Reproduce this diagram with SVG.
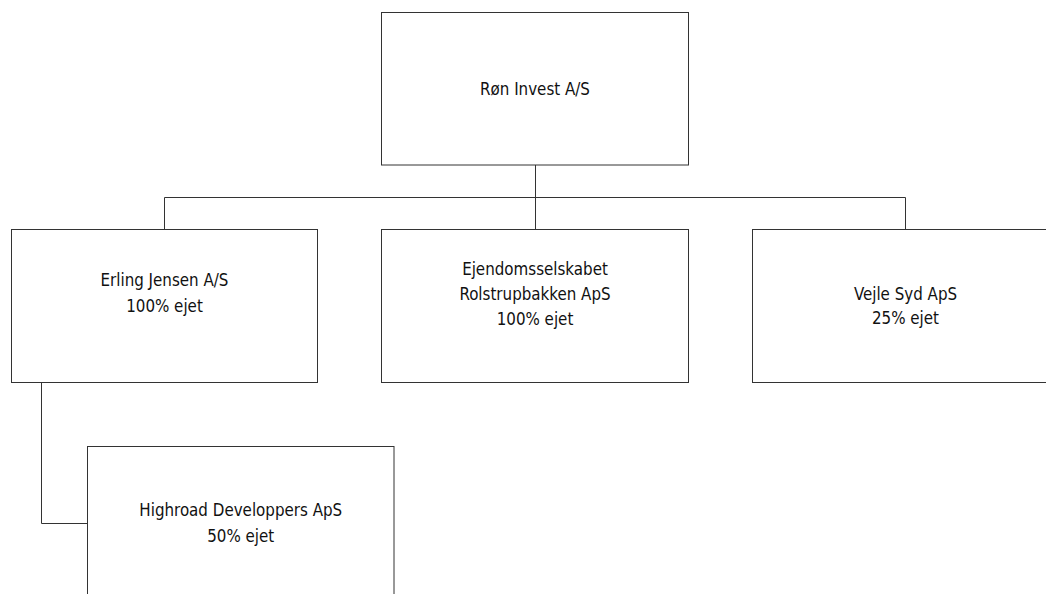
<svg xmlns="http://www.w3.org/2000/svg" width="1046" height="594" viewBox="0 0 1046 594">
<style>
.box{fill:#ffffff;stroke:#333333;stroke-width:1}
.con{fill:none;stroke:#333333;stroke-width:1}
.t{font-family:"DejaVu Sans Condensed","DejaVu Sans",sans-serif;font-size:16.8px;fill:#111111;text-anchor:middle}
</style>
<rect width="1046" height="594" fill="#ffffff"/>
<g id="connectors">
<path class="con" d="M535.5 165 V197.5 M164.5 229.5 V197.5 H905.5 V229.5 M535.5 197.5 V229.5"/>
<path class="con" d="M41.5 382.5 V523.5 H87.5"/>
</g>
<g id="ron">
<rect class="box" x="381.5" y="12.5" width="307" height="152.5"/>
<text class="t" x="535" y="95">Røn Invest A/S</text>
</g>
<g id="erling">
<rect class="box" x="11.5" y="229.5" width="306" height="153"/>
<text class="t" x="164.5" y="286">Erling Jensen A/S</text>
<text class="t" x="164.5" y="311.5">100% ejet</text>
</g>
<g id="ejendom">
<rect class="box" x="381.5" y="229.5" width="307" height="153"/>
<text class="t" x="535" y="274.5">Ejendomsselskabet</text>
<text class="t" x="535" y="299.5">Rolstrupbakken ApS</text>
<text class="t" x="535" y="324.5">100% ejet</text>
</g>
<g id="vejle">
<rect class="box" x="752.5" y="229.5" width="306" height="153"/>
<text class="t" x="905.5" y="299.5">Vejle Syd ApS</text>
<text class="t" x="905.5" y="323.5">25% ejet</text>
</g>
<g id="highroad">
<rect class="box" x="87.5" y="446.5" width="306.5" height="160"/>
<text class="t" x="240.75" y="515.5">Highroad Developpers ApS</text>
<text class="t" x="240.75" y="541.5">50% ejet</text>
</g>
</svg>
